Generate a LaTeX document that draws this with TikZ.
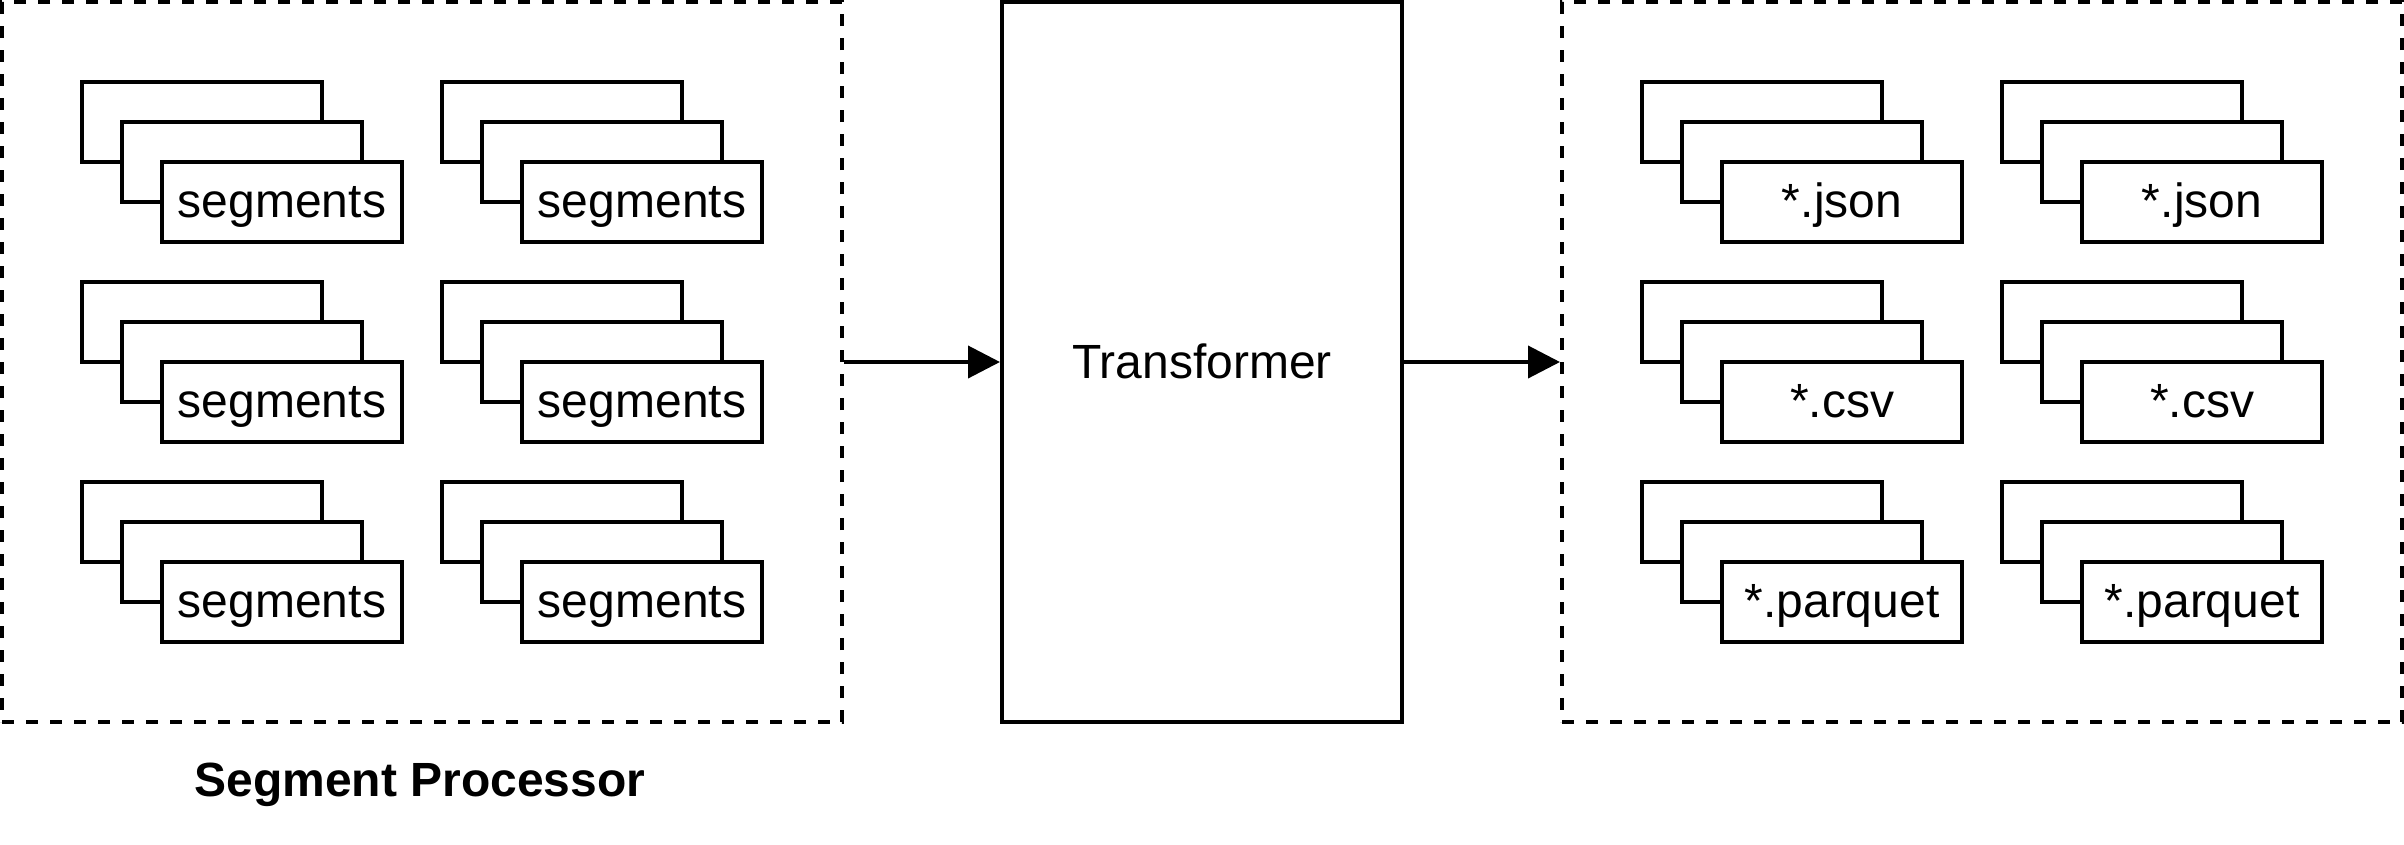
\documentclass[tikz,border=0pt]{standalone}
\usepackage{fontspec}
\setmainfont{Liberation Sans}
\usetikzlibrary{arrows.meta}
\tikzset{
  card/.style={draw, fill=white, line width=4pt, minimum width=240pt, minimum height=80pt,
    inner sep=0pt, text height=31pt, text depth=0pt, font=\fontsize{48}{56}\selectfont},
  dbox/.style={draw, line width=4pt, dash pattern=on 12pt off 12pt,
    minimum width=840pt, minimum height=720pt, inner sep=0pt},
  tbox/.style={draw, line width=4pt, minimum width=400pt, minimum height=720pt,
    inner sep=0pt, text height=32pt, text depth=0pt, font=\fontsize{48}{56}\selectfont},
  flow/.style={line width=4pt, -{Triangle[length=32pt,width=32pt]}},
  caption/.style={anchor=base, inner sep=0pt, font=\fontsize{48}{56}\selectfont\bfseries},
}
\newcommand\mystack[4]{%
  \node[card] (#1b) at (#2+120,#3+40) {};
  \node[card] (#1m) at (#2+160,#3+80) {};
  \node[card] (#1f) at (#2+200,#3+120) {#4};
}
\begin{document}
\begin{tikzpicture}[x=1pt,y=-1pt]
\useasboundingbox (0,0) rectangle (2404,844);
\node[dbox] (proc) at (422,362) {};
\node[tbox] (trans) at (1202,362) {Transformer};
\node[dbox] (out) at (1982,362) {};
\node[caption] (proclabel) at (420,796) {Segment Processor};
% left stacks
\mystack{sa}{82}{82}{segments}
\mystack{sb}{442}{82}{segments}
\mystack{sc}{82}{282}{segments}
\mystack{sd}{442}{282}{segments}
\mystack{se}{82}{482}{segments}
\mystack{sf}{442}{482}{segments}
% right stacks
\mystack{ja}{1642}{82}{*.json}
\mystack{jb}{2002}{82}{*.json}
\mystack{ca}{1642}{282}{*.csv}
\mystack{cb}{2002}{282}{*.csv}
\mystack{pa}{1642}{482}{*.parquet}
\mystack{pb}{2002}{482}{*.parquet}
% arrows
\draw[flow] (proc.east) -- (trans.west);
\draw[flow] (trans.east) -- (out.west);
\end{tikzpicture}
\end{document}
